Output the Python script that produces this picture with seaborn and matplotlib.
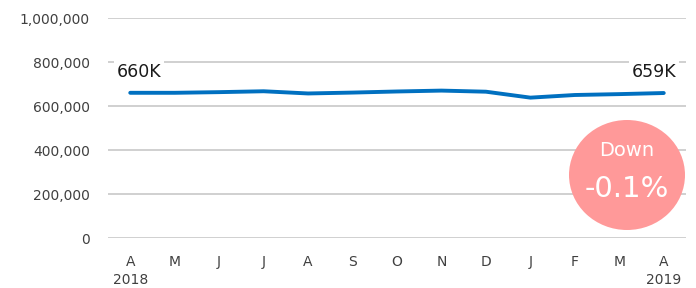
import matplotlib
matplotlib.use("Agg")
import matplotlib.pyplot as plt
from matplotlib.patches import Ellipse
import pandas as pd
import seaborn as sns

months = ["A", "M", "J", "J", "A", "S", "O", "N", "D", "J", "F", "M", "A"]
years = ["2018", "", "", "", "", "", "", "", "", "", "", "", "2019"]
values = [660000, 660000, 663000, 667000, 657000, 661000, 666000,
          670000, 665000, 638000, 650000, 654000, 659000]
yticks = [0, 200000, 400000, 600000, 800000, 1000000]
change_pct = -0.1

df = pd.DataFrame({"pos": range(len(values)), "value": values})

sns.set_style("white")
plt.rcParams["font.family"] = ["DejaVu Sans"]

fig = plt.figure(figsize=(6.96, 2.88), dpi=100)
ax = fig.add_axes([108 / 696, 50 / 288, 578 / 696, 220 / 288])

sns.lineplot(data=df, x="pos", y="value", color="#0070C0", linewidth=2.8, ax=ax)

ax.set_xlim(-0.5, len(values) - 0.5)
ax.set_ylim(0, 1000000)
ax.set_yticks(yticks)
ax.set_yticklabels([f"{v:,}" for v in yticks], fontsize=10, color="#404040")
ax.set_xticks(df["pos"])
ax.set_xticklabels(months, fontsize=10, color="#404040")
ax.tick_params(axis="y", length=0, pad=13)
ax.tick_params(axis="x", length=0, pad=12)
ax.yaxis.grid(True, color="#D0D0D0", linewidth=1.4)
ax.set_axisbelow(True)
for s in ax.spines.values():
    s.set_visible(False)
ax.set_xlabel("")
ax.set_ylabel("")

# year labels under first and last month
for i, yr in enumerate(years):
    if yr:
        ax.text(i, -0.19, yr, transform=ax.get_xaxis_transform(), fontsize=10,
                color="#404040", ha="center", va="center")

box = dict(facecolor="white", edgecolor="none", pad=2)
ax.annotate(f"{values[0] / 1000:.0f}K", (0, 755000), xytext=(-10, 0),
            textcoords="offset points", fontsize=12.5, ha="left", va="center",
            color="#1a1a1a", bbox=box)
ax.annotate(f"{values[-1] / 1000:.0f}K", (len(values) - 1, 755000),
            xytext=(9, 0), textcoords="offset points", fontsize=12.5,
            ha="right", va="center", color="#1a1a1a", bbox=box)

cx, cy = (627 - 108) / 578, (238 - 175) / 220
ax.add_patch(Ellipse((cx, cy), 116 / 578, 110 / 220, transform=ax.transAxes,
                     facecolor="#FF9999", edgecolor="none", clip_on=False,
                     zorder=5))
ax.text(cx, (238 - 150) / 220, "Down" if change_pct < 0 else "Up",
        transform=ax.transAxes, ha="center", va="center", color="white",
        fontsize=14, zorder=6)
ax.text(cx, (238 - 189) / 220, f"{change_pct:.1f}%", transform=ax.transAxes,
        ha="center", va="center", color="white", fontsize=21, zorder=6)

fig.savefig("out.png", dpi=100)
